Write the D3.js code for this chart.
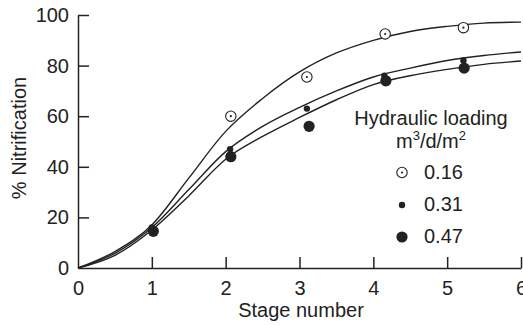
<!DOCTYPE html>
<html>
<head>
<meta charset="utf-8">
<script src="https://cdn.jsdelivr.net/npm/d3@7"></script>
<style>
  body { margin: 0; background: #fff; }
  svg text { font-family: "Liberation Sans", Arial, sans-serif; fill: #222; }
</style>
</head>
<body>
<svg id="chart" width="523" height="325"></svg>
<script>
// loadings shown in the legend
const loadings = ["0.16", "0.31", "0.47"];

// measured points [stage, % nitrification]
const pts016 = [[2.07, 60], [3.10, 75.5], [4.16, 92.5], [5.22, 95]];
const pts031 = [[1.0, 16], [2.06, 47], [3.10, 63], [4.15, 76], [5.22, 82]];
const pts047 = [[1.02, 14.5], [2.07, 44], [3.13, 56], [4.17, 74], [5.23, 79]];

// fitted curves
const curveStages = [0, 0.5, 1, 1.5, 2, 2.5, 3, 3.5, 4, 4.5, 5, 5.5, 6];
const fit016 = [0, 6.5, 17, 35.5, 54, 67, 77.5, 85, 90, 93.5, 95.5, 96.8, 97.2];
const fit031 = [0, 5.8, 16, 31, 46, 56, 63.5, 70, 75.5, 79, 82, 84, 85.4];
const fit047 = [0, 5, 15, 28.5, 43, 52, 59.5, 66.5, 72.5, 76, 78.5, 80.5, 81.8];

const xTicks = [0, 1, 2, 3, 4, 5, 6];
const yTicks = [0, 20, 40, 60, 80, 100];

const svg = d3.select("#chart");

const x = d3.scaleLinear().domain([0, 6]).range([78, 521]);
const y = d3.scaleLinear().domain([0, 100]).range([268, 15]);

const ink = "#222";

// axes (ticks point inward)
const xAxis = svg.append("g")
    .attr("transform", `translate(0,${y(0)})`)
    .call(d3.axisBottom(x).tickValues(xTicks).tickFormat(d3.format("d"))
        .tickSize(-11).tickPadding(13).tickSizeOuter(0));
const yAxis = svg.append("g")
    .attr("transform", `translate(${x(0)},0)`)
    .call(d3.axisLeft(y).tickValues(yTicks).tickFormat(d3.format("d"))
        .tickSize(-11).tickPadding(9).tickSizeOuter(0));

[xAxis, yAxis].forEach(a => {
    a.select(".domain").attr("stroke", ink).attr("stroke-width", 1.5);
    a.selectAll(".tick line").attr("stroke", ink).attr("stroke-width", 1.5);
    a.selectAll(".tick text")
        .style("font-family", "'Liberation Sans', Arial, sans-serif")
        .style("font-size", "20px")
        .attr("fill", ink);
});
// no tick mark at the origin
xAxis.selectAll(".tick").filter(d => d === 0).select("line").remove();
yAxis.selectAll(".tick").filter(d => d === 0).select("line").remove();

// axis titles
svg.append("text")
    .attr("x", 301).attr("y", 317)
    .attr("text-anchor", "middle")
    .style("font-size", "20px")
    .text("Stage number");

svg.append("text")
    .attr("transform", "translate(26,138) rotate(-90)")
    .attr("text-anchor", "middle")
    .style("font-size", "20px")
    .text("% Nitrification");

// fitted curves
const line = d3.line()
    .x(d => x(d[0]))
    .y(d => y(d[1]))
    .curve(d3.curveMonotoneX);

[fit016, fit031, fit047].forEach(vals => {
    svg.append("path")
        .datum(curveStages.map((s, i) => [s, vals[i]]))
        .attr("d", line)
        .attr("fill", "none")
        .attr("stroke", ink)
        .attr("stroke-width", 1.4);
});

// markers
function openDot(g, cx, cy) {
    g.append("circle").attr("cx", cx).attr("cy", cy).attr("r", 5.2)
        .attr("fill", "#fff").attr("stroke", ink).attr("stroke-width", 1.1);
    g.append("circle").attr("cx", cx).attr("cy", cy).attr("r", 1.1).attr("fill", ink);
}
function smallDot(g, cx, cy) {
    g.append("circle").attr("cx", cx).attr("cy", cy).attr("r", 3.2).attr("fill", ink);
}
function bigDot(g, cx, cy) {
    g.append("circle").attr("cx", cx).attr("cy", cy).attr("r", 5.6).attr("fill", ink);
}

const marks = svg.append("g");
pts047.forEach(d => bigDot(marks, x(d[0]), y(d[1])));
pts031.forEach(d => smallDot(marks, x(d[0]), y(d[1])));
pts016.forEach(d => openDot(marks, x(d[0]), y(d[1])));

// legend
const legend = svg.append("g");
legend.append("text")
    .attr("x", 431).attr("y", 125)
    .attr("text-anchor", "middle")
    .style("font-size", "20px")
    .text("Hydraulic loading");

const unit = legend.append("text")
    .attr("x", 431).attr("y", 148)
    .attr("text-anchor", "middle")
    .style("font-size", "20px");
unit.append("tspan").text("m");
unit.append("tspan").attr("dy", -8).style("font-size", "13px").text("3");
unit.append("tspan").attr("dy", 8).text("/d/m");
unit.append("tspan").attr("dy", -8).style("font-size", "13px").text("2");

const drawers = [openDot, smallDot, bigDot];
const rowY = [172.5, 205, 237];
loadings.forEach((lab, i) => {
    drawers[i](legend, 402, rowY[i]);
    legend.append("text")
        .attr("x", 424).attr("y", rowY[i] + 6)
        .style("font-size", "20px")
        .text(lab);
});
</script>
</body>
</html>
